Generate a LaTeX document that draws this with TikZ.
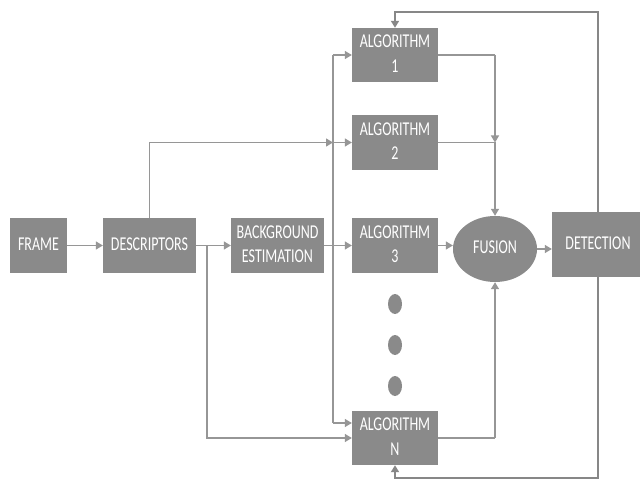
\documentclass[tikz,border=0pt]{standalone}
\usepackage{fontspec}
\setmainfont{Carlito}
\usetikzlibrary{arrows.meta,shapes.geometric}
\definecolor{boxgray}{RGB}{138,138,138}
\definecolor{linegray}{RGB}{150,150,150}
\definecolor{fbgray}{RGB}{135,135,135}
\newcommand{\lbl}[1]{\scalebox{1}[1.4]{\begin{tabular}{@{}c@{}}#1\end{tabular}}}
\tikzset{
  blk/.style={rectangle, fill=boxgray, text=white, inner sep=0pt,
    font=\fontsize{14}{17.6}\selectfont},
  ell/.style={ellipse, fill=boxgray, text=white, inner sep=0pt,
    font=\fontsize{14}{17.6}\selectfont},
  dotn/.style={ellipse, fill=boxgray, inner sep=0pt, minimum width=14pt, minimum height=20pt},
  ln/.style={draw=linegray, line width=1.3pt},
  arr/.style={ln, -{Triangle[length=7pt,width=8pt]}},
  fb/.style={draw=fbgray, line width=1.7pt, -{Triangle[length=7pt,width=8pt]}},
}
\begin{document}
\begin{tikzpicture}[x=1pt,y=-1pt]
\fill[white] (0,0) rectangle (640,481);
\useasboundingbox (0,0) rectangle (640,481);
% nodes
\node[blk, minimum width=57pt, minimum height=55pt] (frame) at (38.5,245.5) {\lbl{FRAME}};
\node[blk, minimum width=93pt, minimum height=55pt] (desc) at (149.5,245.5) {\lbl{DESCRIPTORS}};
\node[blk, minimum width=93pt, minimum height=55pt] (bg) at (277.5,245.5) {\lbl{BACKGROUND\\ESTIMATION}};
\node[blk, minimum width=86pt, minimum height=54pt] (alg1) at (395,55) {\lbl{ALGORITHM\\1}};
\node[blk, minimum width=86pt, minimum height=55pt] (alg2) at (395,142.5) {\lbl{ALGORITHM\\2}};
\node[blk, minimum width=86pt, minimum height=55pt] (alg3) at (395,245.5) {\lbl{ALGORITHM\\3}};
\node[blk, minimum width=86pt, minimum height=54pt] (algN) at (395,438) {\lbl{ALGORITHM\\N}};
\node[ell, minimum width=84pt, minimum height=66pt] (fusion) at (495,249) {\lbl{FUSION}};
\node[blk, minimum width=92pt, minimum height=65pt] (det) at (598,244.5) {\lbl{DETECTION}};
\node[dotn] (d1) at (395,304) {};
\node[dotn] (d2) at (395,345) {};
\node[dotn] (d3) at (395,386) {};
% helper coordinates
\coordinate (br) at (207,245.5);
\coordinate (bus1) at (333,55);
\coordinate (bus2) at (333,142.5);
\coordinate (busN) at (333,423);
\coordinate (m1) at (495,55);
\coordinate (m2) at (495,142.5);
\coordinate (mN) at (495,438);
\coordinate (ft) at (598,12);
\coordinate (fbot) at (598,478);
% main chain
\draw[arr] (frame) -- (desc);
\draw[arr] (desc) -- (bg);
\draw[arr] (bg) -- (alg3);
\draw[arr] (br) |- (algN.west);
% bus
\draw[ln] (bus1) -- (busN);
\draw[arr] (bus1) -- (alg1.west);
\draw[arr] (bus2) -- (alg2.west);
\draw[arr] (busN) -- (busN -| algN.west);
\draw[arr] (desc.north) |- (bus2);
% outputs to fusion
\draw[ln] (alg1.east) -- (m1);
\draw[arr] (m1) -- (m2);
\draw[ln] (alg2.east) -- (m2);
\draw[arr] (m2) -- (fusion.north);
\draw[arr] (alg3.east) -- (alg3.east -| fusion.west);
\draw[ln] (algN.east) -- (mN);
\draw[arr] (mN) -- (fusion.south);
\draw[arr] (fusion.east) -- (fusion.east -| det.west);
% feedback
\draw[fb] (det.north) -- (ft) -| (alg1.north);
\draw[fb] (det.south) -- (fbot) -| (algN.south);
\end{tikzpicture}
\end{document}
